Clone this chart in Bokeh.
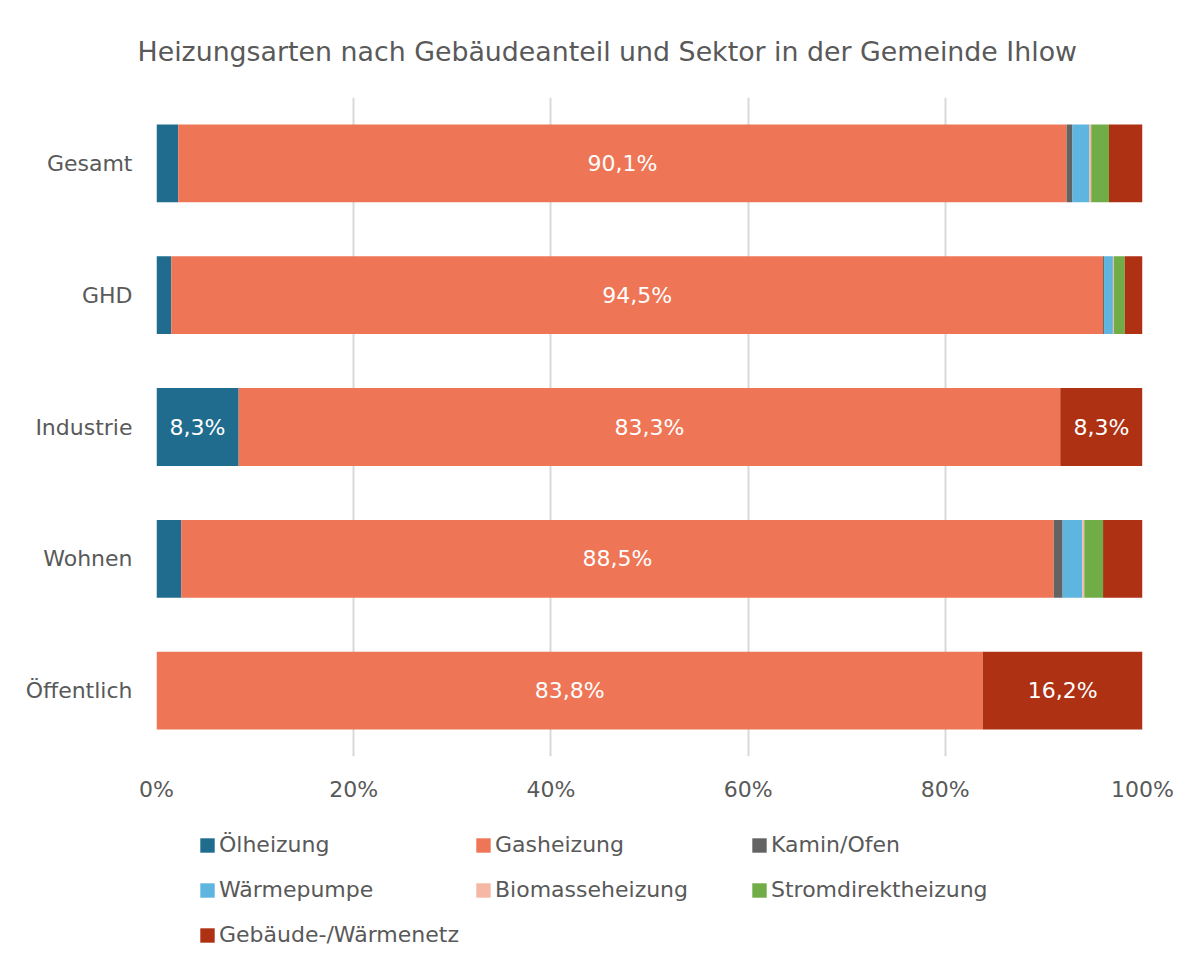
from bokeh.plotting import figure
from bokeh.layouts import column
from bokeh.models import ColumnDataSource, FactorRange, Legend, LegendItem, FixedTicker, CustomJSTickFormatter, Title
from bokeh.core.properties import value
from bokeh.embed import file_html
from bokeh.resources import INLINE

sectors = ["Gesamt", "GHD", "Industrie", "Wohnen", "Öffentlich"]
series = ["Ölheizung", "Gasheizung", "Kamin/Ofen", "Wärmepumpe",
          "Biomasseheizung", "Stromdirektheizung", "Gebäude-/Wärmenetz"]
oel = [2.2, 1.5, 8.33, 2.5, 0.0]
gas = [90.1, 94.5, 83.33, 88.5, 83.8]
kamin = [0.6, 0.1, 0.0, 0.9, 0.0]
waermepumpe = [1.7, 0.9, 0.0, 2.0, 0.0]
biomasse = [0.2, 0.1, 0.0, 0.2, 0.0]
strom = [1.8, 1.1, 0.0, 1.9, 0.0]
netz = [3.4, 1.8, 8.33, 4.0, 16.2]
colors = ["#1F6C8E", "#EE7656", "#636363", "#5EB5E0", "#F5B8A4", "#70AD47", "#AE3114"]
x_ticks = [0, 20, 40, 60, 80, 100]

FONT = "DejaVu Sans"
GRAY = "#595959"

values = [oel, gas, kamin, waermepumpe, biomasse, strom, netz]
keys = ["s%d" % i for i in range(len(series))]
data = {"sector": sectors}
for k, v in zip(keys, values):
    data[k] = v
src = ColumnDataSource(data)

# ---------------- main chart ----------------
p = figure(width=1190, height=805, output_backend="svg", toolbar_location=None,
           y_range=FactorRange(*reversed(sectors)), x_range=(0, 100),
           min_border_left=156, min_border_right=48, min_border_top=97, min_border_bottom=49)

p.hbar_stack(keys, y="sector", height=0.59, color=colors, source=src, line_color=None)

# data labels (>= 5%)
lx, ly, lt = [], [], []
for i, s in enumerate(sectors):
    cum = 0.0
    for v in values:
        vv = v[i]
        if vv >= 5:
            lx.append(cum + vv / 2)
            ly.append(s)
            lt.append(("%.1f%%" % vv).replace(".", ","))
        cum += vv
p.text(x=lx, y=ly, text=lt, text_align="center", text_baseline="middle",
       text_color="white", text_font=value(FONT), text_font_size="22px")

t = Title(text="Heizungsarten nach Gebäudeanteil und Sektor in der Gemeinde Ihlow",
          align="left", offset=-19, text_font=FONT, text_font_size="26.8px",
          text_font_style="normal", text_color=GRAY, standoff=62)
p.add_layout(t, "above")

p.outline_line_color = None
p.ygrid.grid_line_color = None
p.xgrid.grid_line_color = "#D9D9D9"
p.xgrid.grid_line_width = 2
p.xgrid.ticker = FixedTicker(ticks=x_ticks)

p.xaxis.ticker = FixedTicker(ticks=x_ticks)
p.xaxis.formatter = CustomJSTickFormatter(code="return tick + '%';")
p.xaxis.axis_line_color = None
p.xaxis.major_tick_line_color = None
p.xaxis.minor_tick_line_color = None
p.xaxis.major_label_text_font = FONT
p.xaxis.major_label_text_font_size = "22px"
p.xaxis.major_label_text_color = GRAY
p.xaxis.major_label_standoff = 14

p.yaxis.axis_line_color = None
p.yaxis.major_tick_line_color = None
p.yaxis.minor_tick_line_color = None
p.yaxis.major_label_text_font = FONT
p.yaxis.major_label_text_font_size = "22px"
p.yaxis.major_label_text_color = GRAY
p.yaxis.major_label_standoff = 18
p.y_range.range_padding = 0

# ---------------- legend strip ----------------
lg = figure(width=1190, height=155, output_backend="svg", toolbar_location=None,
            y_range=FactorRange(*reversed(sectors)), x_range=(0, 100),
            min_border_left=0, min_border_right=0, min_border_top=0, min_border_bottom=0)
lg.axis.visible = False
lg.grid.grid_line_color = None
lg.outline_line_color = None
leg_renderers = lg.hbar_stack(keys, y="sector", height=0.59, color=colors, source=src, line_color=None)
for r in leg_renderers:
    r.visible = False

items = [LegendItem(label=s, renderers=[r]) for s, r in zip(series, leg_renderers)]
legend = Legend(items=items, ncols=3, orientation="horizontal", location=(42, 10),
                glyph_width=18, glyph_height=18, label_standoff=3,
                label_width=241, spacing=14, label_height=31,
                label_text_font=FONT, label_text_font_size="22px", label_text_color=GRAY,
                inactive_fill_alpha=0,
                border_line_color=None, background_fill_alpha=0, padding=0, margin=0)
lg.add_layout(legend, "center")

layout = column(p, lg, spacing=0)
open("out.html", "w").write(file_html(layout, INLINE))
